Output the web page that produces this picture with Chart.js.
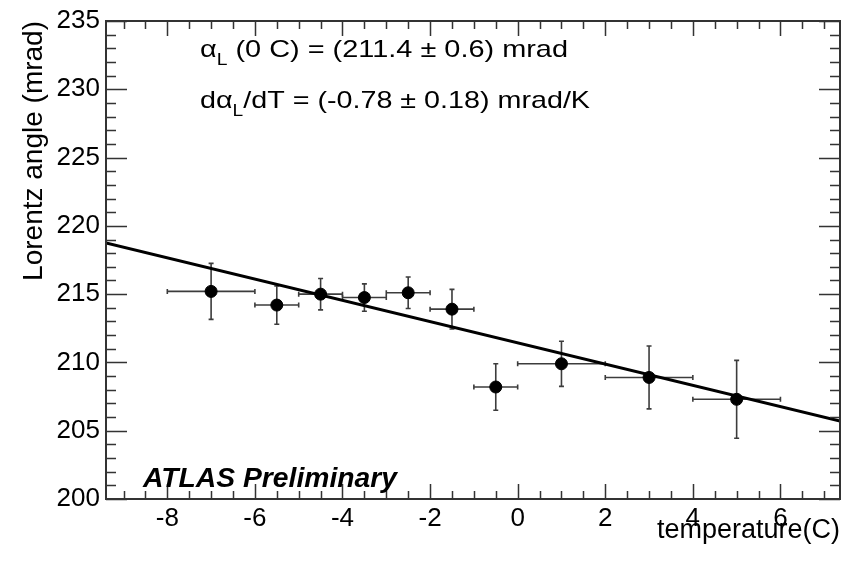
<!DOCTYPE html>
<html><head><meta charset="utf-8">
<script src="https://cdn.jsdelivr.net/npm/chart.js@4.4.0/dist/chart.umd.min.js"></script>
<style>html,body{margin:0;padding:0;background:#fff}#wrap{width:847px;height:563px}</style>
</head><body><div id="wrap"><canvas id="grafica" width="847" height="563"></canvas></div>
<script>
// data
const temps = [-7, -5.5, -4.5, -3.5, -2.5, -1.5, -0.5, 1, 3, 5];
const angles = [215.2, 214.2, 215.0, 214.75, 215.1, 213.9, 208.2, 209.9, 208.9, 207.3];
const tempErr = [1, 0.5, 0.5, 0.5, 0.5, 0.5, 0.5, 1, 1, 1];
const angleErr = [2.05, 1.4, 1.15, 1.0, 1.15, 1.45, 1.7, 1.65, 2.3, 2.85];
const fitX = [-9.4, 7.36];
const fitY = [218.75, 205.7];
const xTicks = [-8, -6, -4, -2, 0, 2, 4, 6];
const yTicks = [200, 205, 210, 215, 220, 225, 230, 235];

const FONT = '"Liberation Sans", Arial, Helvetica, sans-serif';

// draws text squeezed/stretched to a given width, like the ROOT fonts
function fitText(ctx, parts, x, y, width) {
    let natural = 0;
    parts.forEach(p => { ctx.font = p.font; natural += ctx.measureText(p.t).width; });
    const sx = width / natural;
    ctx.save();
    ctx.translate(x, y);
    ctx.scale(sx, 1);
    let cx = 0;
    parts.forEach(p => {
        ctx.font = p.font;
        ctx.fillText(p.t, cx, p.dy || 0);
        cx += ctx.measureText(p.t).width;
    });
    ctx.restore();
}

const rootStyle = {
    id: 'rootStyle',
    beforeDatasetsDraw(chart) {
        // error bars
        const ctx = chart.ctx, xs = chart.scales.x, ys = chart.scales.y;
        ctx.save();
        ctx.strokeStyle = '#3c3c3c';
        ctx.lineWidth = 1.6;
        for (let i = 0; i < temps.length; i++) {
            const px = xs.getPixelForValue(temps[i]);
            const py = ys.getPixelForValue(angles[i]);
            const x1 = xs.getPixelForValue(temps[i] - tempErr[i]);
            const x2 = xs.getPixelForValue(temps[i] + tempErr[i]);
            const y1 = ys.getPixelForValue(angles[i] + angleErr[i]);
            const y2 = ys.getPixelForValue(angles[i] - angleErr[i]);
            ctx.beginPath();
            ctx.moveTo(x1, py); ctx.lineTo(x2, py);
            ctx.moveTo(x1, py - 2.5); ctx.lineTo(x1, py + 2.5);
            ctx.moveTo(x2, py - 2.5); ctx.lineTo(x2, py + 2.5);
            ctx.moveTo(px, y1); ctx.lineTo(px, y2);
            ctx.moveTo(px - 2.5, y1); ctx.lineTo(px + 2.5, y1);
            ctx.moveTo(px - 2.5, y2); ctx.lineTo(px + 2.5, y2);
            ctx.stroke();
        }
        ctx.restore();
    },
    afterDraw(chart) {
        const ctx = chart.ctx, a = chart.chartArea;
        const xs = chart.scales.x, ys = chart.scales.y;
        ctx.save();
        ctx.strokeStyle = '#333';
        ctx.lineWidth = 1.5;
        ctx.beginPath();
        // x ticks, bottom and top, pointing inwards
        for (let v = Math.ceil(xs.min * 2) / 2; v <= xs.max; v += 0.5) {
            const px = Math.round(xs.getPixelForValue(v)) + 0.5;
            const len = (Math.abs(v % 2) < 1e-6) ? 15 : 8;
            ctx.moveTo(px, a.bottom); ctx.lineTo(px, a.bottom - len);
            ctx.moveTo(px, a.top); ctx.lineTo(px, a.top + len);
        }
        // y ticks, left and right
        for (let v = ys.min; v <= ys.max; v += 1) {
            const py = Math.round(ys.getPixelForValue(v)) + 0.5;
            const len = (v % 5 === 0) ? 21 : 10;
            ctx.moveTo(a.left, py); ctx.lineTo(a.left + len, py);
            ctx.moveTo(a.right, py); ctx.lineTo(a.right - len, py);
        }
        ctx.stroke();
        ctx.lineWidth = 2;
        ctx.strokeRect(a.left, a.top, a.right - a.left, a.bottom - a.top);

        // fit results and label
        ctx.fillStyle = '#000';
        ctx.textBaseline = 'alphabetic';
        const big = '24px ' + FONT, sub = '16px ' + FONT;
        fitText(ctx, [
            {t: '\u03b1', font: big},
            {t: 'L', font: sub, dy: 8},
            {t: ' (0 C) = (211.4 \u00b1 0.6) mrad', font: big}
        ], 200, 57, 368);
        fitText(ctx, [
            {t: 'd\u03b1', font: big},
            {t: 'L', font: sub, dy: 8},
            {t: '/dT = (-0.78 \u00b1 0.18) mrad/K', font: big}
        ], 200, 108, 390);
        fitText(ctx, [
            {t: 'ATLAS Preliminary', font: 'italic bold 27px ' + FONT}
        ], 143, 487, 254);
        ctx.restore();
    }
};

const graph = document.querySelector('#grafica');
const data = {
    datasets: [{
        label: 'Lorentz angle',
        data: temps.map((t, i) => ({x: t, y: angles[i]})),
        backgroundColor: '#000',
        borderColor: '#000',
        pointRadius: 6,
        pointHoverRadius: 6,
        showLine: false,
        order: 0
    }, {
        label: 'fit',
        type: 'line',
        data: fitX.map((t, i) => ({x: t, y: fitY[i]})),
        borderColor: '#000',
        borderWidth: 3,
        pointRadius: 0,
        fill: false,
        order: 1
    }]
};

const config = {
    type: 'scatter',
    data: data,
    options: {
        responsive: false,
        animation: false,
        devicePixelRatio: 1,
        layout: {padding: {left: 0, top: 21, right: 2, bottom: 0}},
        plugins: {legend: {display: false}, tooltip: {enabled: false}},
        scales: {
            x: {
                type: 'linear',
                min: -9.4,
                max: 7.36,
                grid: {display: false, drawTicks: false},
                border: {display: false},
                afterFit: s => { s.height = 64; s.paddingLeft = 0; s.paddingRight = 0; },
                afterBuildTicks: s => { s.ticks = xTicks.map(v => ({value: v})); },
                ticks: {color: '#000', padding: 4, font: {family: FONT, size: 26}},
                title: {display: true, text: 'temperature(C)', align: 'end', color: '#000',
                        font: {family: FONT, size: 27}, padding: {top: 0, bottom: 16}}
            },
            y: {
                min: 200,
                max: 235,
                grid: {display: false, drawTicks: false},
                border: {display: false},
                afterFit: s => { s.width = 106; s.paddingTop = 0; s.paddingBottom = 0; },
                afterBuildTicks: s => { s.ticks = yTicks.map(v => ({value: v})); },
                ticks: {color: '#000', padding: 6, font: {family: FONT, size: 26}},
                title: {display: true, text: 'Lorentz angle (mrad)', align: 'end', color: '#000',
                        font: {family: FONT, size: 28}, padding: {top: 17, bottom: 0}}
            }
        }
    },
    plugins: [rootStyle]
};

const financeChart = new Chart(graph, config);
</script></body></html>
